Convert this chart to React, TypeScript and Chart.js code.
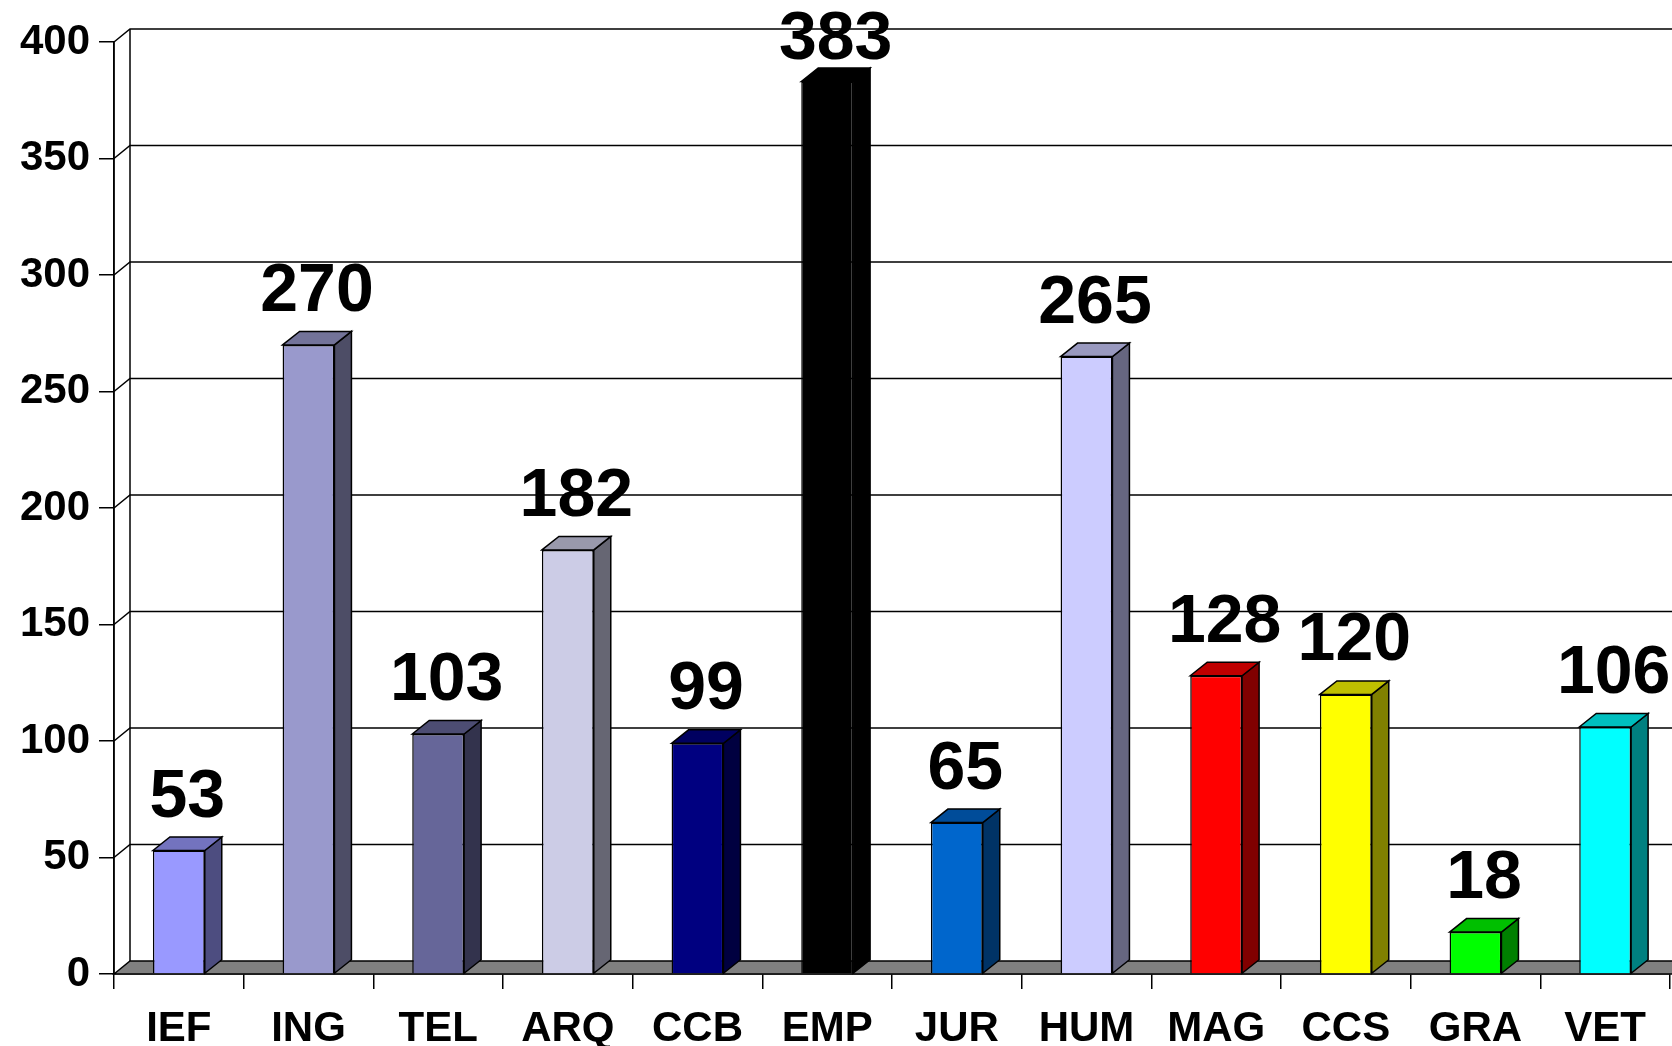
import React, { useEffect, useRef } from "react";
import { Chart, registerables } from "chart.js";

Chart.register(...registerables);

const categories = ["IEF", "ING", "TEL", "ARQ", "CCB", "EMP", "JUR", "HUM", "MAG", "CCS", "GRA", "VET"];
const values = [53, 270, 103, 182, 99, 383, 65, 265, 128, 120, 18, 106];
const frontColors = ["#9999FF", "#9999CC", "#666699", "#CCCCE6", "#000080", "#000000", "#0066CC", "#CCCCFF", "#FF0000", "#FFFF00", "#00FF00", "#00FFFF"];
const sideColors = ["#4D4D80", "#4D4D66", "#33334D", "#666673", "#000040", "#000000", "#003366", "#666680", "#800000", "#808000", "#008000", "#008080"];
const topColors = ["#7373BF", "#737399", "#4D4D73", "#9999AC", "#000060", "#000000", "#004C99", "#9999BF", "#BF0000", "#BFBF00", "#00BF00", "#00BFBF"];
const yTicks = { min: 0, max: 400, step: 50 };

const W = 1672;
const H = 1046;
const WALL_DX = 16;
const WALL_DY = 13;
const BAR_DX = 17;
const BAR_DY = 13.5;
const FONT = '"Liberation Sans", Arial, sans-serif';
const LABEL_SIZE = 68;
const LABEL_GAP = 34;

const wallPlugin = {
  id: "wall3d",
  beforeDatasetsDraw(chart: any) {
    const ctx = chart.ctx;
    const ca = chart.chartArea;
    const ys = chart.scales.y;
    ctx.save();
    ctx.strokeStyle = "#000";
    ctx.lineWidth = 1.5;
    for (let v = yTicks.min + yTicks.step; v <= yTicks.max; v += yTicks.step) {
      const y = ys.getPixelForValue(v);
      ctx.beginPath();
      ctx.moveTo(ca.left, y);
      ctx.lineTo(ca.left + WALL_DX, y - WALL_DY);
      ctx.lineTo(W + 5, y - WALL_DY);
      ctx.stroke();
    }
    ctx.beginPath();
    ctx.moveTo(ca.left + WALL_DX, ys.getPixelForValue(yTicks.max) - WALL_DY);
    ctx.lineTo(ca.left + WALL_DX, ca.bottom - WALL_DY);
    ctx.stroke();
    ctx.beginPath();
    ctx.moveTo(ca.left, ca.bottom);
    ctx.lineTo(ca.left + WALL_DX, ca.bottom - WALL_DY);
    ctx.lineTo(W + 5, ca.bottom - WALL_DY);
    ctx.lineTo(W + 5, ca.bottom);
    ctx.closePath();
    ctx.fillStyle = "#808080";
    ctx.fill();
    ctx.stroke();
    ctx.beginPath();
    ctx.moveTo(ca.left, ys.getPixelForValue(yTicks.max));
    ctx.lineTo(ca.left, ca.bottom);
    ctx.stroke();
    ctx.restore();
  },
  afterDatasetsDraw(chart: any) {
    const ctx = chart.ctx;
    const meta = chart.getDatasetMeta(0);
    ctx.save();
    ctx.lineWidth = 1.5;
    ctx.strokeStyle = "#000";
    ctx.lineJoin = "miter";
    meta.data.forEach((bar: any, i: number) => {
      const { x, y, base, width } = bar.getProps(["x", "y", "base", "width"], true);
      const l = x - width / 2;
      const r = x + width / 2;
      ctx.beginPath();
      ctx.moveTo(r, y);
      ctx.lineTo(r + BAR_DX, y - BAR_DY);
      ctx.lineTo(r + BAR_DX, base - BAR_DY);
      ctx.lineTo(r, base);
      ctx.closePath();
      ctx.fillStyle = sideColors[i];
      ctx.fill();
      ctx.stroke();
      ctx.beginPath();
      ctx.moveTo(l, y);
      ctx.lineTo(l + BAR_DX, y - BAR_DY);
      ctx.lineTo(r + BAR_DX, y - BAR_DY);
      ctx.lineTo(r, y);
      ctx.closePath();
      ctx.fillStyle = topColors[i];
      ctx.fill();
      ctx.stroke();
      ctx.fillStyle = "#000";
      ctx.font = `bold ${LABEL_SIZE}px ${FONT}`;
      ctx.textAlign = "center";
      ctx.textBaseline = "alphabetic";
      const by = Math.max(y - LABEL_GAP, LABEL_SIZE * 0.72 + 10);
      ctx.fillText(String(values[i]), l + (width + BAR_DX) / 2, by);
    });
    ctx.restore();
  },
};

export default function App() {
  const ref = useRef<HTMLCanvasElement>(null);
  useEffect(() => {
    if (!ref.current) return;
    const chart = new Chart(ref.current, {
      type: "bar",
      data: {
        labels: categories,
        datasets: [
          {
            data: values,
            backgroundColor: frontColors,
            borderColor: "#000",
            borderWidth: 1.5,
            barPercentage: 0.4,
            categoryPercentage: 1,
          },
        ],
      },
      options: {
        animation: false,
        responsive: false,
        devicePixelRatio: 1,
        layout: { padding: { top: 42, right: 2, left: 0, bottom: 0 } },
        plugins: { legend: { display: false }, tooltip: { enabled: false } },
        scales: {
          x: {
            type: "category",
            offset: true,
            grid: {
              display: true,
              drawOnChartArea: false,
              drawTicks: true,
              tickLength: 15,
              color: "#000",
              lineWidth: 1.5,
              offset: true,
            },
            border: { display: true, color: "#000", width: 1.5 },
            ticks: {
              color: "#000",
              padding: 15,
              font: { family: FONT, size: 42, weight: "bold" },
              maxRotation: 0,
              autoSkip: false,
            },
            afterFit: (s: any) => {
              s.height = 72;
            },
          },
          y: {
            min: yTicks.min,
            max: yTicks.max,
            grid: {
              display: true,
              drawOnChartArea: false,
              drawTicks: true,
              tickLength: 15,
              color: "#000",
              lineWidth: 1.5,
            },
            border: { display: true, color: "#000", width: 1.5 },
            ticks: {
              stepSize: yTicks.step,
              color: "#000",
              padding: 9,
              font: { family: FONT, size: 42, weight: "bold" },
            },
            afterFit: (s: any) => {
              s.width = 114;
            },
          },
        },
      },
      plugins: [wallPlugin],
    } as any);
    return () => chart.destroy();
  }, []);
  return (
    <div style={{ position: "absolute", left: 0, top: 0, width: W, height: H, background: "#fff" }}>
      <canvas ref={ref} width={W} height={H} style={{ width: W, height: H, display: "block" }} />
    </div>
  );
}
